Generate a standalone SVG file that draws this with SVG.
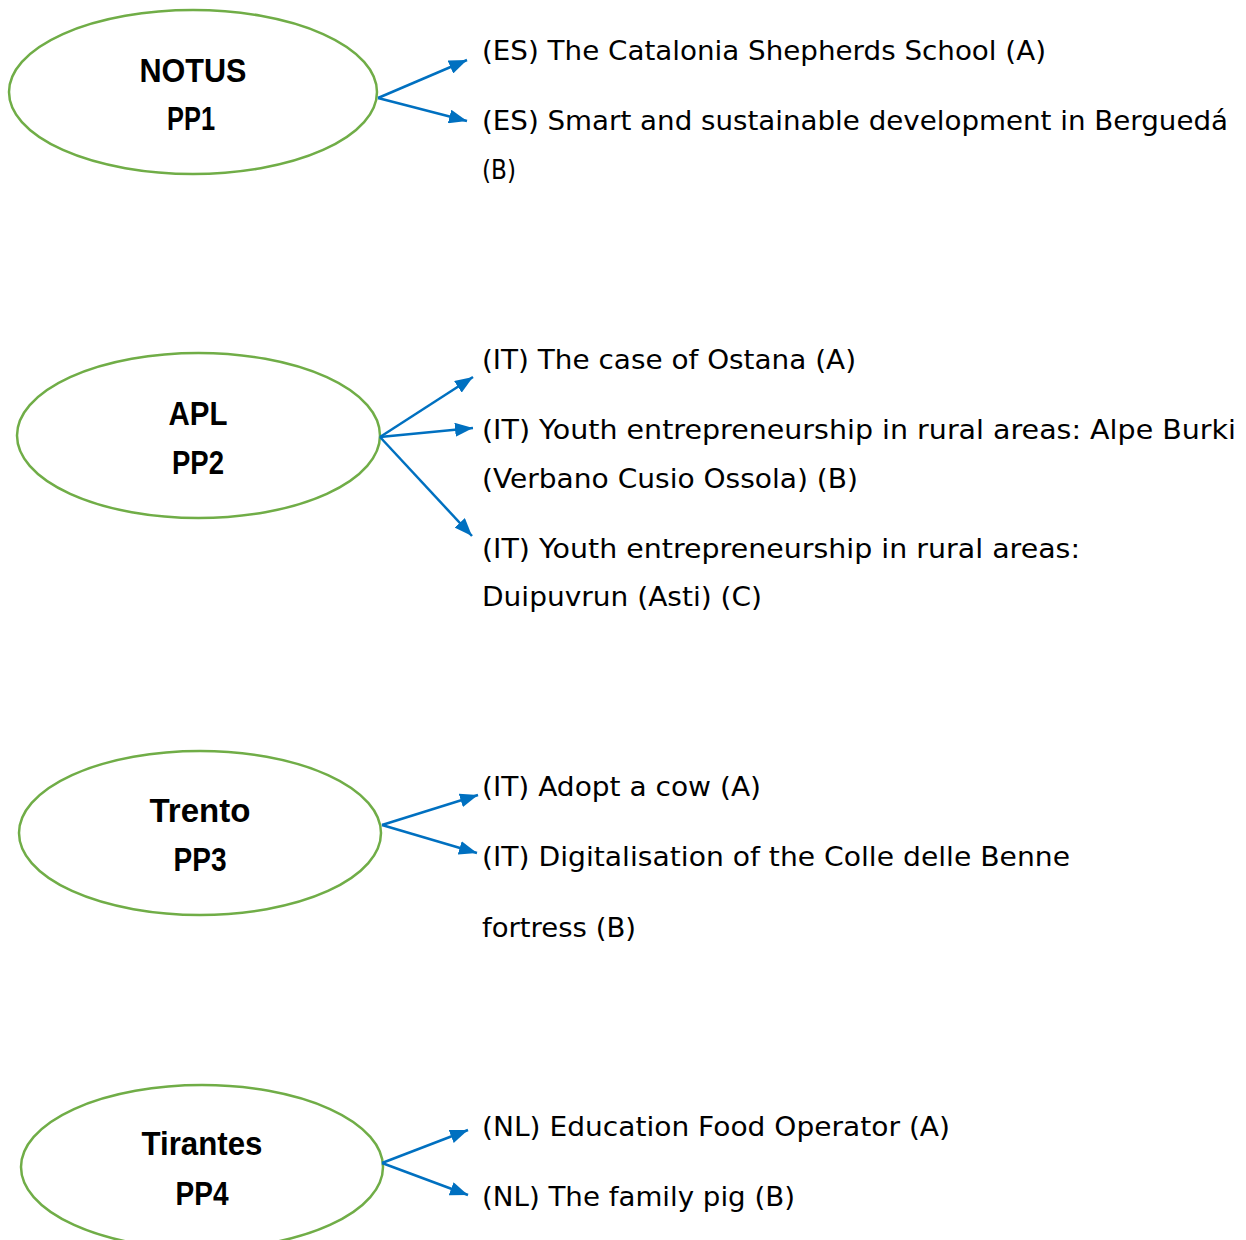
<svg xmlns="http://www.w3.org/2000/svg" width="1246" height="1240" viewBox="0 0 1246 1240">
<style>
.node{fill:#fff;stroke:#70AD47;stroke-width:2.5}
.lbl{font-family:"Liberation Sans",Arial,sans-serif;font-weight:bold;font-size:34px;fill:#000;text-anchor:middle}
.txt{font-family:"DejaVu Sans",sans-serif;font-size:27px;fill:#000}
.conn line{stroke:#0070C0;stroke-width:2.5;fill:none}
</style>
<defs>
<marker id="ah" markerUnits="userSpaceOnUse" markerWidth="18" markerHeight="14" viewBox="0 0 18 14" refX="18" refY="7" orient="auto">
<path d="M0,0 L18,7 L0,14 z" fill="#0070C0"/>
</marker>
</defs>
<rect width="1246" height="1240" fill="#fff"/>
<g id="node-pp1">
<ellipse class="node" cx="193" cy="92" rx="184" ry="82"/>
<text class="lbl" x="193" y="82" textLength="107" lengthAdjust="spacingAndGlyphs">NOTUS</text>
<text class="lbl" x="191" y="130" textLength="48" lengthAdjust="spacingAndGlyphs">PP1</text>
</g>
<g id="node-pp2">
<ellipse class="node" cx="198.5" cy="435.5" rx="181.5" ry="82.5"/>
<text class="lbl" x="198" y="425" textLength="59" lengthAdjust="spacingAndGlyphs">APL</text>
<text class="lbl" x="198" y="474" textLength="52" lengthAdjust="spacingAndGlyphs">PP2</text>
</g>
<g id="node-pp3">
<ellipse class="node" cx="200" cy="833" rx="181" ry="82"/>
<text class="lbl" x="200" y="822" textLength="101" lengthAdjust="spacingAndGlyphs">Trento</text>
<text class="lbl" x="200" y="871" textLength="53" lengthAdjust="spacingAndGlyphs">PP3</text>
</g>
<g id="node-pp4">
<ellipse class="node" cx="202" cy="1167" rx="181" ry="82"/>
<text class="lbl" x="202" y="1155" textLength="121" lengthAdjust="spacingAndGlyphs">Tirantes</text>
<text class="lbl" x="202" y="1205" textLength="53" lengthAdjust="spacingAndGlyphs">PP4</text>
</g>
<g id="connectors" class="conn">
<line x1="378" y1="98" x2="467" y2="60" marker-end="url(#ah)"/>
<line x1="378" y1="98" x2="467" y2="121" marker-end="url(#ah)"/>
<line x1="380" y1="437" x2="473" y2="377" marker-end="url(#ah)"/>
<line x1="380" y1="437" x2="473" y2="428" marker-end="url(#ah)"/>
<line x1="380" y1="437" x2="472" y2="536" marker-end="url(#ah)"/>
<line x1="382" y1="825" x2="478" y2="795" marker-end="url(#ah)"/>
<line x1="382" y1="825" x2="477" y2="853" marker-end="url(#ah)"/>
<line x1="382" y1="1163" x2="468" y2="1130" marker-end="url(#ah)"/>
<line x1="382" y1="1163" x2="468" y2="1195" marker-end="url(#ah)"/>
</g>
<g id="items">
<text class="txt" x="482" y="60" textLength="564" lengthAdjust="spacingAndGlyphs">(ES) The Catalonia Shepherds School (A)</text>
<text class="txt" x="482" y="130" textLength="746" lengthAdjust="spacingAndGlyphs">(ES) Smart and sustainable development in Bergued&#225;</text>
<text class="txt" x="482" y="179" textLength="34" lengthAdjust="spacingAndGlyphs">(B)</text>
<text class="txt" x="482" y="369" textLength="374" lengthAdjust="spacingAndGlyphs">(IT) The case of Ostana (A)</text>
<text class="txt" x="482" y="439" textLength="754" lengthAdjust="spacingAndGlyphs">(IT) Youth entrepreneurship in rural areas: Alpe Burki</text>
<text class="txt" x="482" y="488" textLength="376" lengthAdjust="spacingAndGlyphs">(Verbano Cusio Ossola) (B)</text>
<text class="txt" x="482" y="558" textLength="598" lengthAdjust="spacingAndGlyphs">(IT) Youth entrepreneurship in rural areas:</text>
<text class="txt" x="482" y="606" textLength="280" lengthAdjust="spacingAndGlyphs">Duipuvrun (Asti) (C)</text>
<text class="txt" x="482" y="796" textLength="279" lengthAdjust="spacingAndGlyphs">(IT) Adopt a cow (A)</text>
<text class="txt" x="482" y="866" textLength="588" lengthAdjust="spacingAndGlyphs">(IT) Digitalisation of the Colle delle Benne</text>
<text class="txt" x="482" y="937" textLength="154" lengthAdjust="spacingAndGlyphs">fortress (B)</text>
<text class="txt" x="482" y="1136" textLength="468" lengthAdjust="spacingAndGlyphs">(NL) Education Food Operator (A)</text>
<text class="txt" x="482" y="1206" textLength="313" lengthAdjust="spacingAndGlyphs">(NL) The family pig (B)</text>
</g>
</svg>
